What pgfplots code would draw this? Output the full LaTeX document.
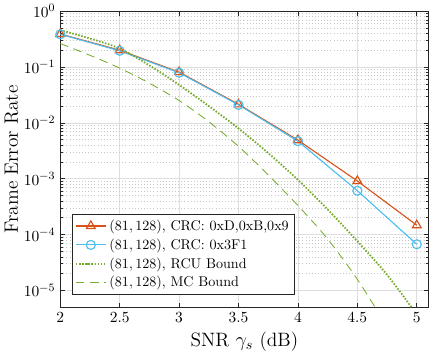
\documentclass[border=0pt]{standalone}
\usepackage{pgfplots}
\pgfplotsset{compat=1.18}
\definecolor{corange}{HTML}{D95319}
\definecolor{cblue}{HTML}{4DBEEE}
\definecolor{cgreen}{HTML}{77AC30}
\definecolor{axgray}{HTML}{262626}
\begin{document}
\begin{tikzpicture}
\begin{semilogyaxis}[
  scale only axis, width=261pt, height=210pt,
  xmin=2, xmax=5.1, ymin=4.93e-6, ymax=1,
  xtick={2,2.5,3,3.5,4,4.5,5},
  ytick={1e-5,1e-4,1e-3,1e-2,1e-1,1},
  tick align=inside,
  xmajorgrids=true, ymajorgrids=true, yminorgrids=true, xminorgrids=false,
  major grid style={color=black!13, line width=0.4pt},
  minor grid style={color=black!22, line width=0.4pt, dash pattern=on 0.6pt off 1.6pt},
  axis line style={axgray, line width=0.5pt},
  every tick/.style={axgray, line width=0.4pt},
  major tick length=3.5pt, minor tick length=2pt,
  xlabel={SNR $\gamma_s$ (dB)}, ylabel={Frame Error Rate},
  label style={font=\fontsize{13.7}{16}\selectfont},
  ylabel style={yshift=-3pt},
  tick label style={font=\fontsize{11.3}{13}\selectfont},
  legend style={at={(0.033,0.044)}, anchor=south west, draw=axgray, font=\fontsize{10}{12}\selectfont,
    cells={anchor=west}, inner sep=1.6pt, row sep=0.4pt, line width=0.5pt},
  legend cell align=left,
  legend image code/.code={\draw[mark repeat=2,mark phase=2,#1] plot coordinates {(0cm,0cm) (0.37cm,0cm) (0.74cm,0cm)};},
]
\addplot[corange, line width=0.8pt, mark=triangle, mark size=3.6pt, mark options={solid, line width=0.8pt}]
coordinates {(2,0.39) (2.5,0.20) (3,0.081) (3.5,0.0215) (4,0.0049) (4.5,9.1e-4) (5,1.47e-4)};
\addlegendentry{$(81,128)$, CRC: 0xD,0xB,0x9}
\addplot[cblue, line width=0.8pt, mark=o, mark size=3.2pt, mark options={solid, line width=0.8pt}]
coordinates {(2,0.385) (2.5,0.195) (3,0.079) (3.5,0.021) (4,0.0047) (4.5,6.1e-4) (5,6.7e-5)};
\addlegendentry{$(81,128)$, CRC: 0x3F1}
\addplot[cgreen, line width=1.3pt, dash pattern=on 1.1pt off 1.1pt, smooth]
coordinates {(2,0.457) (2.25,0.324) (2.5,0.214) (2.75,0.107) (3,0.0479) (3.25,0.0200) (3.5,7.94e-3) (3.75,2.88e-3) (4,9.55e-4) (4.25,2.82e-4) (4.5,7.59e-5) (4.75,1.91e-5) (5,3.72e-6)};
\addlegendentry{$(81,128)$, RCU Bound}
\addplot[cgreen, line width=0.6pt, dash pattern=on 6pt off 4pt, smooth]
coordinates {(2,0.263) (2.25,0.162) (2.5,0.0955) (2.75,0.0513) (3,0.0251) (3.25,0.0105) (3.5,3.80e-3) (3.75,1.17e-3) (4,3.31e-4) (4.25,8.32e-5) (4.5,1.58e-5) (4.75,2.24e-6)};
\addlegendentry{$(81,128)$, MC Bound}
\end{semilogyaxis}
\end{tikzpicture}
\end{document}
